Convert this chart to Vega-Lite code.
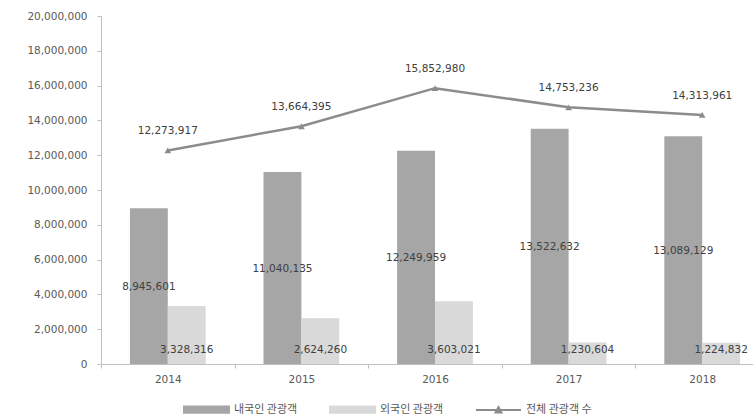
{
  "$schema": "https://vega.github.io/schema/vega-lite/v6.json",
  "autosize": "none",
  "width": 652,
  "height": 348,
  "padding": {"left": 101, "top": 16, "right": 0, "bottom": 53},
  "background": "white",
  "config": {"view": {"stroke": null}, "font": "DejaVu Sans"},
  "datasets": {
    "bars": [
      {"year": "2014", "type": "내국인 관광객", "value": 8945601},
      {"year": "2014", "type": "외국인 관광객", "value": 3328316},
      {"year": "2015", "type": "내국인 관광객", "value": 11040135},
      {"year": "2015", "type": "외국인 관광객", "value": 2624260},
      {"year": "2016", "type": "내국인 관광객", "value": 12249959},
      {"year": "2016", "type": "외국인 관광객", "value": 3603021},
      {"year": "2017", "type": "내국인 관광객", "value": 13522632},
      {"year": "2017", "type": "외국인 관광객", "value": 1230604},
      {"year": "2018", "type": "내국인 관광객", "value": 13089129},
      {"year": "2018", "type": "외국인 관광객", "value": 1224832}
    ],
    "totals": [
      {"year": "2014", "total": 12273917},
      {"year": "2015", "total": 13664395},
      {"year": "2016", "total": 15852980},
      {"year": "2017", "total": 14753236},
      {"year": "2018", "total": 14313961}
    ]
  },
  "resolve": {"scale": {"y": "independent"}},
  "layer": [
    {
      "data": {"name": "bars"},
      "mark": {"type": "bar"},
      "encoding": {
        "x": {
          "field": "year", "type": "nominal",
          "scale": {"range": [0, 668], "paddingInner": 0, "paddingOuter": 0},
          "axis": {"title": null, "labelAngle": 0, "tickBand": "extent", "domainColor": "#bfbfbf", "tickColor": "#bfbfbf", "tickSize": 4, "labelFont": "DejaVu Sans", "labelFontSize": 10.5, "labelColor": "#595959", "labelPadding": 6}
        },
        "xOffset": {
          "field": "type", "type": "nominal",
          "scale": {"domain": ["내국인 관광객", "외국인 관광객"], "paddingInner": 0, "paddingOuter": 0.763}
        },
        "y": {
          "field": "value", "type": "quantitative",
          "scale": {"domain": [0, 20000000], "nice": false},
          "axis": {"title": null, "values": [0, 2000000, 4000000, 6000000, 8000000, 10000000, 12000000, 14000000, 16000000, 18000000, 20000000], "labelExpr": "format(datum.value, ',')", "grid": false, "domainColor": "#bfbfbf", "tickColor": "#bfbfbf", "tickSize": 4, "labelPadding": 10, "labelFont": "DejaVu Sans", "labelFontSize": 10.5, "labelColor": "#595959"}
        },
        "color": {
          "field": "type", "type": "nominal",
          "scale": {"domain": ["내국인 관광객", "외국인 관광객", "전체 관광객 수"], "range": ["#a6a6a6", "#d9d9d9", "#8c8c8c"]},
          "legend": {
            "orient": "none", "legendX": 82, "legendY": 370, "direction": "horizontal", "columns": 3,
            "title": null, "symbolSize": 2025, "symbolType": "M-1,-0.14H1V0.14H-1Z",
            "labelFont": "Noto Sans CJK KR", "labelFontSize": 11, "labelColor": "#595959", "labelBaseline": "middle",
            "columnPadding": 28, "labelOffset": 4, "padding": 0,
            "encode": {
              "symbols": {
                "update": {
                  "shape": {"signal": "datum.value === '전체 관광객 수' ? 'M-1,0H1M-0.13,0.11L0,-0.13L0.13,0.11Z' : 'M-1,-0.14H1V0.14H-1Z'"},
                  "fill": {"signal": "scale('color', datum.value)"},
                  "stroke": {"signal": "datum.value === '전체 관광객 수' ? scale('color', datum.value) : 'transparent'"},
                  "strokeWidth": {"value": 2}
                }
              }
            }
          }
        }
      }
    },
    {
      "data": {"name": "bars"},
      "transform": [{"filter": "datum.type === '내국인 관광객'"}],
      "mark": {"type": "text", "font": "DejaVu Sans", "fontSize": 10.5, "color": "#404040", "baseline": "middle", "dy": 1},
      "encoding": {
        "x": {"field": "year", "type": "nominal"},
        "xOffset": {"field": "type", "type": "nominal"},
        "y": {"field": "value", "type": "quantitative", "scale": {"domain": [0, 40000000], "nice": false}, "axis": null},
        "text": {"field": "value", "type": "quantitative", "format": ","}
      }
    },
    {
      "data": {"name": "bars"},
      "transform": [{"filter": "datum.type === '외국인 관광객'"}],
      "mark": {"type": "text", "font": "DejaVu Sans", "fontSize": 10.5, "color": "#404040", "baseline": "middle", "dy": -14},
      "encoding": {
        "x": {"field": "year", "type": "nominal"},
        "xOffset": {"field": "type", "type": "nominal"},
        "y": {"datum": 0, "type": "quantitative", "scale": {"domain": [0, 20000000], "nice": false}, "axis": null},
        "text": {"field": "value", "type": "quantitative", "format": ","}
      }
    },
    {
      "data": {"name": "totals"},
      "mark": {"type": "line", "strokeWidth": 2.5, "point": {"shape": "triangle-up", "size": 45, "filled": true}},
      "encoding": {
        "x": {"field": "year", "type": "nominal"},
        "y": {"field": "total", "type": "quantitative", "scale": {"domain": [0, 20000000], "nice": false}, "axis": null},
        "color": {"datum": "전체 관광객 수"}
      }
    },
    {
      "data": {"name": "totals"},
      "mark": {"type": "text", "font": "DejaVu Sans", "fontSize": 10.5, "color": "#404040", "baseline": "middle", "dy": -19},
      "encoding": {
        "x": {"field": "year", "type": "nominal"},
        "y": {"field": "total", "type": "quantitative", "scale": {"domain": [0, 20000000], "nice": false}, "axis": null},
        "text": {"field": "total", "type": "quantitative", "format": ","}
      }
    }
  ]
}
